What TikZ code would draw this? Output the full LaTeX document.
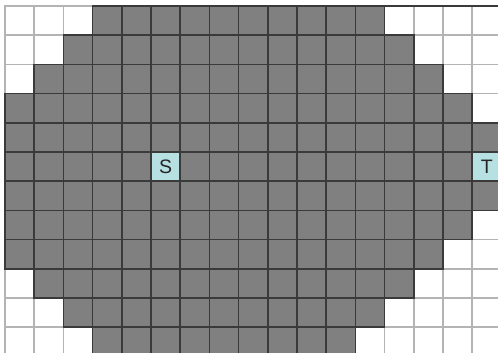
\documentclass[tikz,border=0pt]{standalone}
\usepackage{fontspec}
\setmainfont{Liberation Sans}
\definecolor{cellgray}{HTML}{808080}
\definecolor{celledge}{HTML}{3A3A3A}
\definecolor{freeedge}{HTML}{B4B4B4}
\definecolor{endcyan}{HTML}{B6E0E2}
\tikzset{
  every picture/.style={line cap=rect, line join=miter},
  % grid cells
  wallcell/.style={fill=cellgray, draw=celledge, line width=1.6pt},
  freecell/.style={fill=white, draw=freeedge, line width=1.6pt},
  % start and target cells
  endcell/.style={fill=endcyan, draw=celledge, line width=1.6pt, minimum size=1cm,
    inner sep=0pt, text=black!85, font=\fontsize{19}{22}\selectfont},
}

\begin{document}
\begin{tikzpicture}[x=1cm, y=1cm]
  \clip (-0.171,0.205) rectangle (16.884,-11.884);
  \fill[white] (-0.171,0.205) rectangle (16.884,-11.884);
  % ---------------- free cells (row / free on left / free on right)
  \foreach \r/\nl/\nr in {0/3/4, 1/2/3, 2/1/2, 3/0/1, 4/0/0, 5/0/0,
                          6/0/0, 7/0/1, 8/0/2, 9/1/3, 10/2/4, 11/3/5}{
    \foreach \c in {0,...,16}{
      \pgfmathtruncatemacro\isfree{or(\c<\nl, \c>16-\nr)}
      \ifnum\isfree=1 \draw[freecell] (\c,-\r) rectangle ++(1,-1); \fi
    }
  }
  % ---------------- blocked cells
  \foreach \r/\nl/\nr in {0/3/4, 1/2/3, 2/1/2, 3/0/1, 4/0/0, 5/0/0,
                          6/0/0, 7/0/1, 8/0/2, 9/1/3, 10/2/4, 11/3/5}{
    \foreach \c in {0,...,16}{
      \pgfmathtruncatemacro\isfree{or(\c<\nl, \c>16-\nr)}
      \ifnum\isfree=0 \draw[wallcell] (\c,-\r) rectangle ++(1,-1); \fi
    }
  }
  \draw[celledge, line width=1.6pt] (3,0) -- (17,0);
  % ---------------- start and target
  \node[endcell] (s) at (5.5,-5.5) {S};
  \node[endcell] (t) at (16.5,-5.5) {T};
\end{tikzpicture}
\end{document}
